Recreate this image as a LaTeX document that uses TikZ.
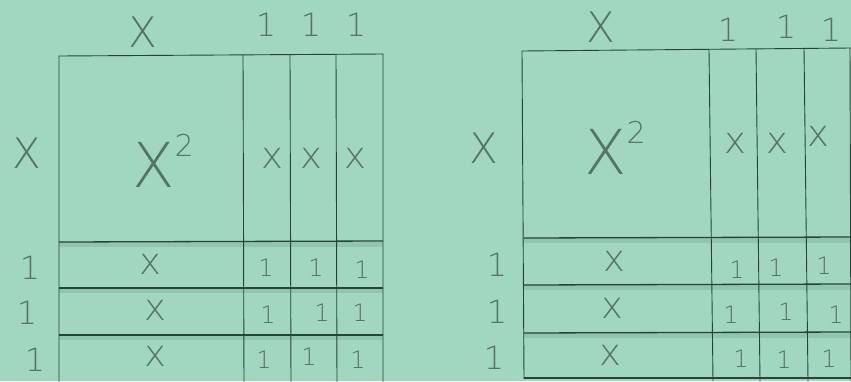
\documentclass[tikz,border=0pt]{standalone}
\usepackage{fontspec}
\setmainfont{DejaVu Sans ExtraLight}
\definecolor{paper}{RGB}{161,215,191}
\definecolor{ink}{RGB}{35,68,54}
\definecolor{pencil}{RGB}{85,115,102}
\newcommand{\sqsup}{\raisebox{0.5em}{\fontsize{30}{30}\selectfont 2}}
\tikzset{
  grid/.style={draw=ink, line width=0.9pt},
  rowline/.style={draw=ink, line width=1.3pt},
  big/.style={text=pencil, font=\fontsize{42}{42}\selectfont, inner sep=0pt},
  sq/.style={text=pencil, font=\fontsize{62}{62}\selectfont, inner sep=0pt, anchor=base west},
  mid/.style={text=pencil, font=\fontsize{37}{37}\selectfont, inner sep=0pt},
  one/.style={text=pencil, font=\fontsize{32}{32}\selectfont, inner sep=0pt},
  small/.style={text=pencil, font=\fontsize{24}{24}\selectfont, inner sep=0pt}
}
\begin{document}
\begin{tikzpicture}[x=1pt,y=-1pt]
\fill[paper] (0,0) rectangle (851,381);
\useasboundingbox (0,0) rectangle (851,381);
% ---------- left grid ----------
\fill[ink, opacity=0.12] (59,242) rectangle (383,247);
\fill[ink, opacity=0.12] (59,288) rectangle (383,293);
\fill[ink, opacity=0.12] (59,335) rectangle (383,340);
\draw[grid] (59,386) -- (59,56) -- (383,54) -- (383,386);
\draw[grid] (243,55) -- (244,386);
\draw[grid] (290,55) -- (291,386);
\draw[grid] (336,54) -- (337,386);
\draw[rowline] (59,242) -- (383,241);
\draw[rowline] (59,288) -- (383,288);
\draw[rowline] (59,335) -- (383,335);
\node[big] (lX) at (143,32) {X};
\node[one] (l1a) at (266,25) {1};
\node[one] (l1b) at (311,25) {1};
\node[one] (l1c) at (356,25) {1};
\node[big] (lXl) at (27,153) {X};
\node[sq] (lX2) at (132,187) {X\sqsup};
\node[mid] (lx1) at (272,158) {x};
\node[mid] (lx2) at (311,158) {x};
\node[mid] (lx3) at (355,158) {x};
\node[one] (lr1) at (30,268) {1};
\node[one] (lr2) at (27,313) {1};
\node[one] (lr3) at (35,360) {1};
\node[mid] (lrx1) at (150,264) {x};
\node[mid] (lrx2) at (155,310) {x};
\node[mid] (lrx3) at (155,356) {x};
\foreach \cx/\cy/\n in {266/268/a, 316/268/b, 362/270/c, 268/315/d, 322/313/e, 360/313/f, 264/360/g, 309/357/h, 358/360/i}
  \node[small] (lu\n) at (\cx,\cy) {1};
% ---------- right grid ----------
\fill[ink, opacity=0.12] (523,238) rectangle (851,243);
\fill[ink, opacity=0.12] (523,285) rectangle (851,290);
\fill[ink, opacity=0.12] (523,333) rectangle (851,338);
\draw[grid] (524,379) -- (522,51) -- (851,48);
\draw[grid] (709,50) -- (713,381);
\draw[grid] (756,49) -- (760,381);
\draw[grid] (804,48) -- (808,381);
\draw[grid] (850,48) -- (851,381);
\draw[rowline] (524,238) -- (851,237);
\draw[rowline] (524,285) -- (851,284);
\draw[rowline] (524,333) -- (851,332);
\draw[rowline] (524,378) -- (851,378);
\node[big] (rX) at (601,27) {X};
\node[one] (r1a) at (728,30) {1};
\node[one] (r1b) at (786,27) {1};
\node[one] (r1c) at (831,30) {1};
\node[big] (rXl) at (484,148) {X};
\node[sq] (rX2) at (584,174) {X\sqsup};
\node[mid] (rx1) at (735,143) {x};
\node[mid] (rx2) at (777,143) {x};
\node[mid] (rx3) at (818,136) {x};
\node[one] (rr1) at (497,265) {1};
\node[one] (rr2) at (497,312) {1};
\node[one] (rr3) at (494,358) {1};
\node[mid] (rrx1) at (614,261) {x};
\node[mid] (rrx2) at (612,308) {x};
\node[mid] (rrx3) at (610,355) {x};
\foreach \cx/\cy/\n in {737/270/a, 776/268/b, 824/266/c, 731/315/d, 786/312/e, 836/315/f, 741/359/g, 784/360/h, 829/359/i}
  \node[small] (ru\n) at (\cx,\cy) {1};
\end{tikzpicture}
\end{document}
